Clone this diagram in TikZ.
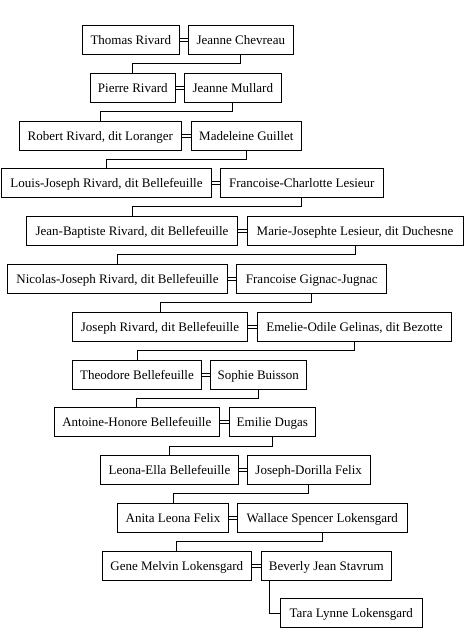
\documentclass[tikz,border=0pt]{standalone}
\usepackage{fontspec}
\setmainfont{Liberation Serif}
\usetikzlibrary{calc}
\tikzset{
  pbox/.style={draw=black, line width=1pt, inner sep=0pt, minimum height=28.7pt, fill=white, text height=11pt, text depth=1.8pt, font=\fontsize{13}{15}\selectfont},
  link/.style={draw=black, line width=1pt},
}
\newcommand{\marry}[2]{%
  \draw[link] ([yshift=1.5pt]#1.east) -- ([yshift=1.5pt]#2.west);
  \draw[link] ([yshift=-1.5pt]#1.east) -- ([yshift=-1.5pt]#2.west);}
\newcommand{\descend}[2]{%
  \draw[link] (#1.south) |- ($(#1.south)!.5!(#2.north)$) -| (#2.north);}
\begin{document}
\begin{tikzpicture}[x=1pt,y=-1pt]
\useasboundingbox[fill=white] (0,0) rectangle (464,629);
\node[pbox, minimum width=97pt] (a1) at (130.8,39.7) {Thomas Rivard};
\node[pbox, minimum width=105pt] (b1) at (240.8,39.7) {Jeanne Chevreau};
\node[pbox, minimum width=85pt] (a2) at (132.8,87.7) {Pierre Rivard};
\node[pbox, minimum width=97pt] (b2) at (232.8,87.7) {Jeanne Mullard};
\node[pbox, minimum width=162pt] (a3) at (100.3,135.8) {Robert Rivard, dit Loranger};
\node[pbox, minimum width=110pt] (b3) at (246.3,135.8) {Madeleine Guillet};
\node[pbox, minimum width=209.6pt] (a4) at (106.5,183) {Louis-Joseph Rivard, dit Bellefeuille};
\node[pbox, minimum width=163pt] (b4) at (301.8,183) {Francoise-Charlotte Lesieur};
\node[pbox, minimum width=211.4pt] (a5) at (132,230.8) {Jean-Baptiste Rivard, dit Bellefeuille};
\node[pbox, minimum width=216pt] (b5) at (355,230.8) {Marie-Josephte Lesieur, dit Duchesne};
\node[pbox, minimum width=220.4pt] (a6) at (117.5,278.8) {Nicolas-Joseph Rivard, dit Bellefeuille};
\node[pbox, minimum width=149.7pt] (b6) at (311.8,278.8) {Francoise Gignac-Jugnac};
\node[pbox, minimum width=175.4pt] (a7) at (160,327) {Joseph Rivard, dit Bellefeuille};
\node[pbox, minimum width=194.4pt] (b7) at (354.5,327) {Emelie-Odile Gelinas, dit Bezotte};
\node[pbox, minimum width=129.4pt] (a8) at (137,374.8) {Theodore Bellefeuille};
\node[pbox, minimum width=96pt] (b8) at (258.3,374.8) {Sophie Buisson};
\node[pbox, minimum width=165pt] (a9) at (136.8,422.3) {Antoine-Honore Bellefeuille};
\node[pbox, minimum width=86pt] (b9) at (272.3,422.3) {Emilie Dugas};
\node[pbox, minimum width=138.4pt] (a10) at (169.5,469.8) {Leona-Ella Bellefeuille};
\node[pbox, minimum width=123.3pt] (b10) at (308.7,469.8) {Joseph-Dorilla Felix};
\node[pbox, minimum width=111.4pt] (a11) at (173,517.8) {Anita Leona Felix};
\node[pbox, minimum width=170pt] (b11) at (322.3,517.8) {Wallace Spencer Lokensgard};
\node[pbox, minimum width=149pt] (a12) at (176.8,565.7) {Gene Melvin Lokensgard};
\node[pbox, minimum width=130pt] (b12) at (326.3,565.7) {Beverly Jean Stavrum};
\node[pbox, minimum width=142pt] (c) at (351.3,613.2) {Tara Lynne Lokensgard};
\foreach \i in {1,...,12} {\marry{a\i}{b\i}}
\foreach \i/\j in {1/2,2/3,3/4,4/5,5/6,6/7,7/8,8/9,9/10,10/11,11/12} {\descend{b\i}{a\j}}
\draw[link] ([xshift=9pt]b12.south west) |- (c.west);
\end{tikzpicture}
\end{document}
